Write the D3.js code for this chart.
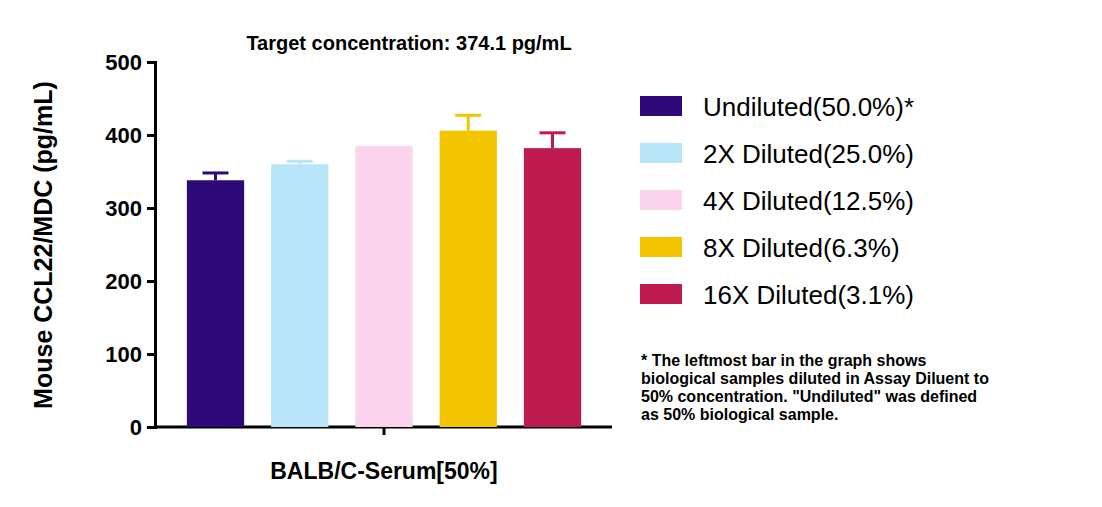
<!DOCTYPE html><html><head><meta charset="utf-8"><script src="https://d3js.org/d3.v7.min.js"></script>
<style>body{margin:0;background:#fff}text{font-family:Arial,"Liberation Sans",sans-serif}</style></head><body><svg id="c" width="1102" height="507"></svg><script>
const categories=["Undiluted(50.0%)*","2X Diluted(25.0%)","4X Diluted(12.5%)","8X Diluted(6.3%)","16X Diluted(3.1%)"];
const values=[338,360,385,406,382];
const errors=[10,4,0,21,21];
const colors=["#2e0a78","#b8e6f8","#fcd3ec","#f2c500","#bd1a4f"];
const yTicks=[0,100,200,300,400,500];
const svg=d3.select("#c");
const y=d3.scaleLinear().domain([0,500]).range([427,62]);
const x=d3.scaleBand().domain(categories).range([170,598]).paddingInner(0.32).paddingOuter(0.2);
const g=svg.append("g").attr("transform","translate(155,0)");
g.call(d3.axisLeft(y).tickValues(yTicks).tickSize(8)).call(a=>{a.select(".domain").attr("stroke-width",3);a.selectAll("line").attr("stroke-width",3);a.selectAll("text").attr("font-size",22).attr("font-weight","bold").attr("fill","#000").attr("dx",-2);});
svg.append("line").attr("x1",155).attr("x2",612).attr("y1",427).attr("y2",427).attr("stroke","#000").attr("stroke-width",3);
svg.append("line").attr("x1",384).attr("x2",384).attr("y1",427).attr("y2",435).attr("stroke","#000").attr("stroke-width",3);
categories.forEach((c,i)=>{
 const cx=x(c)+x.bandwidth()/2;
 if(errors[i]>0){
 svg.append("line").attr("x1",cx).attr("x2",cx).attr("y1",y(values[i])).attr("y2",y(values[i]+errors[i])).attr("stroke",colors[i]).attr("stroke-width",3);
 svg.append("line").attr("x1",cx-13).attr("x2",cx+13).attr("y1",y(values[i]+errors[i])).attr("y2",y(values[i]+errors[i])).attr("stroke",colors[i]).attr("stroke-width",3);}
 svg.append("rect").attr("x",x(c)).attr("width",x.bandwidth()).attr("y",y(values[i])).attr("height",y(0)-y(values[i])).attr("fill",colors[i]);
 svg.append("rect").attr("x",640).attr("y",96+i*47).attr("width",42).attr("height",20).attr("fill",colors[i]);
 svg.append("text").attr("x",703).attr("y",116+i*47).attr("font-size",26).text(c);
});
svg.append("text").attr("x",409).attr("y",50).attr("text-anchor","middle").attr("font-size",20).attr("font-weight","bold").text("Target concentration: 374.1 pg/mL");
svg.append("text").attr("x",384).attr("y",479).attr("text-anchor","middle").attr("font-size",23).attr("font-weight","bold").text("BALB/C-Serum[50%]");
svg.append("text").attr("transform","translate(52,245) rotate(-90)").attr("text-anchor","middle").attr("font-size",25).attr("font-weight","bold").text("Mouse CCL22/MDC (pg/mL)");
["* The leftmost bar in the graph shows","biological samples diluted in Assay Diluent to","50% concentration. \"Undiluted\" was defined","as 50% biological sample."].forEach((t,i)=>svg.append("text").attr("x",641).attr("y",366+i*18).attr("font-size",16).attr("font-weight","bold").text(t));
</script></body></html>
